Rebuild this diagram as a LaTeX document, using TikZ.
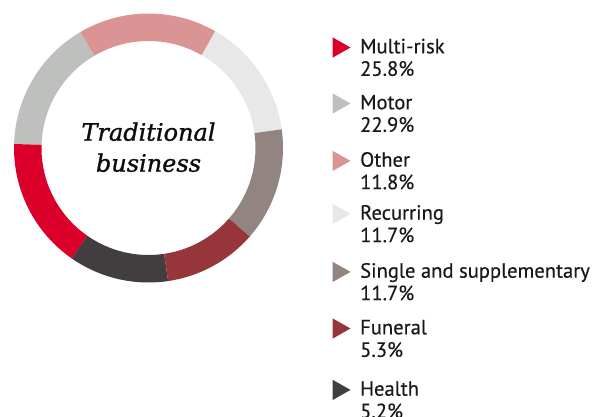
\documentclass[tikz,border=0pt]{standalone}
\usepackage{fontspec}
\newfontfamily\legendfont[FakeBold=0.4]{PT Sans}
\newfontfamily\titlefont[FakeBold=1.2]{DejaVu Serif}
\definecolor{multirisk}{RGB}{218,0,42}
\definecolor{motor}{RGB}{190,192,190}
\definecolor{other}{RGB}{218,148,148}
\definecolor{recurring}{RGB}{232,232,232}
\definecolor{single}{RGB}{146,132,128}
\definecolor{funeral}{RGB}{150,54,58}
\definecolor{health}{RGB}{66,62,64}
\tikzset{
	legtext/.style={anchor=base west, inner sep=0pt, text=black!90, font=\legendfont\fontsize{20.6}{21}\selectfont},
	titletext/.style={anchor=base, inner sep=0pt, text=black!95, font=\titlefont\itshape\fontsize{24}{24}\selectfont}
}
\begin{document}
\begin{tikzpicture}[x=1pt,y=-1pt]
	
	\useasboundingbox (0,0) rectangle (594,417);
	\coordinate (c) at (148.5,148);
	
	\foreach \a/\b/\col in {8/60.3/recurring, 60.3/120.5/other, 120.5/178.3/motor, 178.3/235.2/multirisk, 235.2/278.4/health, 278.4/318.9/funeral, 318.9/368/single}
	\fill[\col, shift={(c)}] (\a:134.5pt) arc[start angle=\a, end angle=\b, radius=134.5pt] -- (\b:107pt) arc[start angle=\b, end angle=\a, radius=107pt] -- cycle;
	
	\node[titletext] (title) at (148.5,140.7) {Traditional};
	\node[titletext] (title2) at (148.5,171.7) {business};
	
	\foreach \i/\y/\col/\lab/\pc in {1/53.3/multirisk/Multi-risk/25.8, 2/109.3/motor/Motor/22.9, 3/166.7/other/Other/11.8, 4/219.7/recurring/Recurring/11.7, 5/277.7/single/Single and supplementary/11.7, 6/334.3/funeral/Funeral/5.3, 7/395.7/health/Health/5.2}
	{
		\fill[\col] (332.5,\y-16) -- (350.5,\y-5.8) -- (332.5,\y+4.4) -- cycle;
		\node[legtext] (lab\i) at (360,\y) {\lab};
		\node[legtext] (pc\i) at (360,\y+22.5) {\pc\%};
	}
	
\end{tikzpicture}
\end{document}
